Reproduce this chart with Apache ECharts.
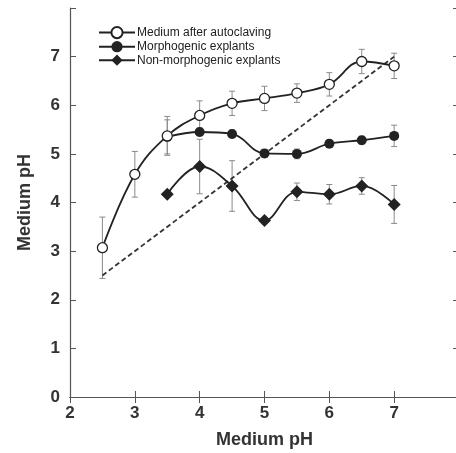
<!DOCTYPE html>
<html>
<head>
<meta charset="utf-8">
<script src="https://cdn.jsdelivr.net/npm/echarts@6/dist/echarts.min.js"></script>
<style>
  html, body { margin: 0; padding: 0; background: #fff; }
  #chart { width: 456px; height: 453px; }
</style>
</head>
<body>
<div id="chart"></div>
<script>
// x positions (initial medium pH)
const phAll = [2.5, 3, 3.5, 4, 4.5, 5, 5.5, 6, 6.5, 7];
const phExplants = [3.5, 4, 4.5, 5, 5.5, 6, 6.5, 7];

// measured medium pH
const autoclaved = [3.07, 4.58, 5.37, 5.79, 6.04, 6.14, 6.25, 6.43, 6.90, 6.81];
const autoclavedErr = [0.63, 0.47, 0.40, 0.30, 0.25, 0.25, 0.19, 0.24, 0.25, 0.26];

const morphogenic = [5.35, 5.45, 5.41, 5.01, 5.00, 5.21, 5.28, 5.37];
const morphogenicErr = [0.35, 0.08, 0.08, 0.08, 0.10, 0.08, 0.08, 0.22];

const nonMorphogenic = [4.17, 4.74, 4.34, 3.63, 4.22, 4.17, 4.34, 3.96];
const nonMorphogenicErr = [0, 0.56, 0.52, 0, 0.18, 0.20, 0.17, 0.39];

// reference line (no change in pH)
const refLine = [[2.5, 2.5], [7, 7]];

const names = ['Medium after autoclaving', 'Morphogenic explants', 'Non-morphogenic explants'];

const ink = '#222';
const axisColor = '#555';
const font = '"Liberation Sans", Arial, sans-serif';

function errData(xs, ys, es) {
  return xs.map((x, i) => [x, ys[i], es[i]]);
}

function errorBars(params, api) {
  const x = api.value(0), y = api.value(1), e = api.value(2);
  if (!e) return null;
  const top = api.coord([x, y + e]);
  const bot = api.coord([x, y - e]);
  const cap = 3;
  const style = { stroke: '#8a8a8a', lineWidth: 1 };
  return {
    type: 'group',
    children: [
      { type: 'line', shape: { x1: top[0], y1: top[1], x2: bot[0], y2: bot[1] }, style },
      { type: 'line', shape: { x1: top[0] - cap, y1: top[1], x2: top[0] + cap, y2: top[1] }, style },
      { type: 'line', shape: { x1: bot[0] - cap, y1: bot[1], x2: bot[0] + cap, y2: bot[1] }, style }
    ]
  };
}

function pairs(xs, ys) {
  return xs.map((x, i) => [x, ys[i]]);
}

const chart = echarts.init(document.getElementById('chart'));

const hideLast = v => (v === 8 ? '' : String(v));

const option = {
  animation: false,
  backgroundColor: '#fff',
  grid: { left: 70, right: -3, top: 8, bottom: 56, outerBoundsMode: 'none', containLabel: false },
  legend: {
    data: names,
    orient: 'vertical',
    left: 93,
    top: 21,
    itemWidth: 36,
    itemHeight: 14,
    itemGap: 1.5,
    textStyle: { fontFamily: font, fontSize: 12, color: ink, padding: [0, 0, 0, -3] }
  },
  xAxis: [
    {
      type: 'value', min: 2, max: 8, interval: 1,
      name: 'Medium pH', nameLocation: 'middle', nameGap: 34,
      nameTextStyle: { fontFamily: font, fontSize: 18, fontWeight: 'bold', color: '#333' },
      axisLine: { lineStyle: { color: axisColor, width: 1.2 } },
      axisTick: { inside: true, length: 6, lineStyle: { color: axisColor } },
      axisLabel: { formatter: hideLast, margin: 8, fontFamily: font, fontSize: 17, fontWeight: 'bold', color: '#333' },
      splitLine: { show: false }
    },
    {
      type: 'value', min: 2, max: 8, interval: 1, position: 'top',
      axisLine: { lineStyle: { color: axisColor, width: 1.2 } },
      axisTick: { inside: true, length: 6, lineStyle: { color: axisColor } },
      axisLabel: { show: false },
      splitLine: { show: false }
    }
  ],
  yAxis: [
    {
      type: 'value', min: 0, max: 8, interval: 1,
      name: 'Medium pH', nameLocation: 'middle', nameGap: 36,
      nameTextStyle: { fontFamily: font, fontSize: 18, fontWeight: 'bold', color: '#333' },
      axisLine: { show: true, lineStyle: { color: axisColor, width: 1.2 } },
      axisTick: { show: true, inside: true, length: 6, lineStyle: { color: axisColor } },
      axisLabel: { formatter: hideLast, margin: 10, fontFamily: font, fontSize: 17, fontWeight: 'bold', color: '#333' },
      splitLine: { show: false }
    },
    {
      type: 'value', min: 0, max: 8, interval: 1, position: 'right',
      axisLine: { show: true, lineStyle: { color: axisColor, width: 1.2 } },
      axisTick: { show: true, inside: true, length: 6, lineStyle: { color: axisColor } },
      axisLabel: { show: false },
      splitLine: { show: false }
    }
  ],
  series: [
    {
      name: 'ref', type: 'line', data: refLine, symbol: 'none', z: 1,
      lineStyle: { color: '#333', width: 1.8, type: [5, 3] }
    },
    { name: 'err1', type: 'custom', renderItem: errorBars, data: errData(phAll, autoclaved, autoclavedErr), z: 1 },
    { name: 'err2', type: 'custom', renderItem: errorBars, data: errData(phExplants, morphogenic, morphogenicErr), z: 1 },
    { name: 'err3', type: 'custom', renderItem: errorBars, data: errData(phExplants, nonMorphogenic, nonMorphogenicErr), z: 1 },
    {
      name: names[2], type: 'line', smooth: 0.4, data: pairs(phExplants, nonMorphogenic),
      symbol: 'diamond', symbolSize: 13, z: 3,
      lineStyle: { color: ink, width: 1.8 },
      itemStyle: { color: ink, borderColor: ink, borderWidth: 0 }
    },
    {
      name: names[1], type: 'line', smooth: 0.4, data: pairs(phExplants, morphogenic),
      symbol: 'circle', symbolSize: 10, z: 4,
      lineStyle: { color: ink, width: 1.8 },
      itemStyle: { color: ink, borderColor: ink, borderWidth: 0 }
    },
    {
      name: names[0], type: 'line', smooth: 0.4, data: pairs(phAll, autoclaved),
      symbol: 'circle', symbolSize: 10, z: 5,
      lineStyle: { color: ink, width: 1.8 },
      itemStyle: { color: '#fff', borderColor: ink, borderWidth: 1.3 }
    }
  ]
};

chart.setOption(option);
</script>
</body>
</html>
